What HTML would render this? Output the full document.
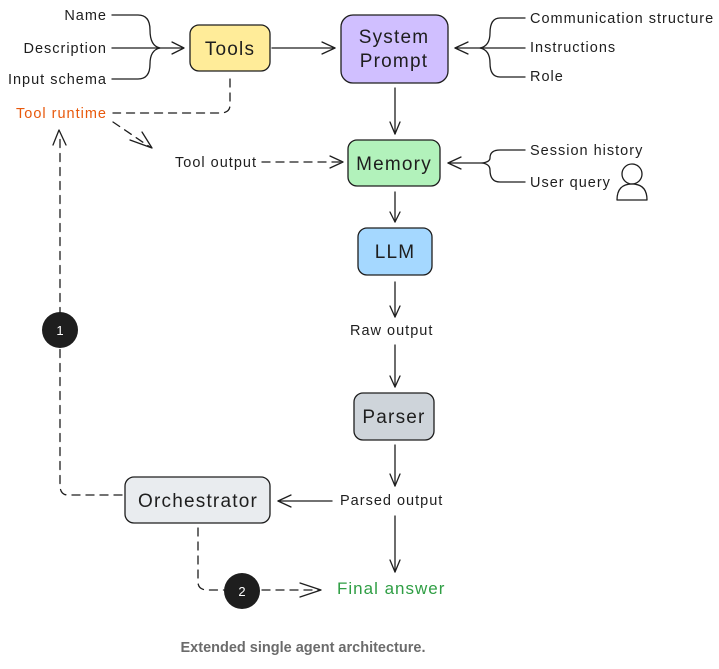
<!DOCTYPE html>
<html><head><meta charset="utf-8"><style>
body{margin:0;background:#fff;width:719px;height:664px;overflow:hidden}
svg text{font-family:"Liberation Sans",sans-serif;fill:#1e1e1e}
</style></head><body>
<svg width="719" height="664" viewBox="0 0 719 664" xmlns="http://www.w3.org/2000/svg">
<g fill="none" stroke="#1e1e1e" stroke-width="1.3" stroke-linecap="round" stroke-linejoin="round">
<path d="M112 15 H138 Q150 15 150 30 Q150 46 160 48 Q150 50 150 64 Q150 79 138 79 H112"/>
<path d="M112 48 H183"/>
<path d="M172 42 L184 48 L172 54"/>
<path d="M272 48 H335"/><path d="M322 42 L335 48 L322 54"/>
<path d="M525 18 H500 Q490 18 490 33 Q490 46 480 48 Q490 50 490 63 Q490 77 500 77 H525"/>
<path d="M525 48 H455"/><path d="M468 42 L455 48 L468 54"/>
<path d="M525 150 H500 Q490 150 490 158 Q490 162 482 163 Q490 164 490 170 Q490 182 500 182 H525"/>
<path d="M482 163 H448"/><path d="M461 157 L448 163 L461 169"/>
<path d="M395 88 V134"/><path d="M390 122 L395 134 L400 122"/>
<path d="M395 192 V222"/><path d="M390 212 L395 222 L400 212"/>
<path d="M395 282 V317"/><path d="M390 306 L395 317 L400 306"/>
<path d="M395 345 V387"/><path d="M390 376 L395 387 L400 376"/>
<path d="M395 445 V486"/><path d="M390 474 L395 486 L400 474"/>
<path d="M395 516 V572"/><path d="M390 560 L395 572 L400 560"/>
<path d="M332 501 H278"/><path d="M291 495 L278 501 L291 507"/>
<g stroke-dasharray="8 6">
<path d="M230 79 V105 Q230 113 220 113 H113"/>
<path d="M113 122 L150 147"/>
<path d="M262 162 H342"/>
<path d="M122 495 H68 Q60 495 60 485 V136"/>
<path d="M198 528 V582 Q198 590 208 590 H224"/>
<path d="M262 590 H320"/>
</g>
<path d="M130 140 L152 148 L142 132"/>
<path d="M330 156 L343 162 L330 168"/>
<path d="M53 145 L59 130 L66 145"/>
<path d="M300 583 L321 590 L300 597"/>
<circle cx="632" cy="174" r="10"/>
<path d="M617 200 Q617 184 632 184 Q647 184 647 200 Z"/>
</g>
<g stroke="#1e1e1e" stroke-width="1.3">
<rect x="190" y="25" width="80" height="46" rx="9" fill="#ffec99"/>
<rect x="341" y="15" width="107" height="68" rx="12" fill="#d0bfff"/>
<rect x="348" y="140" width="92" height="46" rx="9" fill="#b2f2bb"/>
<rect x="358" y="228" width="74" height="47" rx="9" fill="#a5d8ff"/>
<rect x="354" y="393" width="80" height="47" rx="9" fill="#ced4da"/>
<rect x="125" y="477" width="145" height="46" rx="9" fill="#e9ecef"/>
</g>
<circle cx="60" cy="330" r="18" fill="#1e1e1e"/>
<circle cx="242" cy="591" r="18" fill="#1e1e1e"/>
<text x="60" y="335" font-size="13" text-anchor="middle" style="fill:#fff">1</text>
<text x="242" y="596" font-size="13" text-anchor="middle" style="fill:#fff">2</text>
<g font-size="19" text-anchor="middle" letter-spacing="1.2">
<text x="230" y="55">Tools</text>
<text x="394" y="43">System</text>
<text x="394" y="67">Prompt</text>
<text x="394" y="170">Memory</text>
<text x="395" y="258">LLM</text>
<text x="394" y="423">Parser</text>
<text x="198" y="507">Orchestrator</text>
</g>
<g font-size="14.5" text-anchor="end" letter-spacing="1">
<text x="107" y="20">Name</text>
<text x="107" y="53">Description</text>
<text x="107" y="84">Input schema</text>
<text x="107" y="118" style="fill:#e8590c">Tool runtime</text>
<text x="257" y="167">Tool output</text>
</g>
<g font-size="14.5" letter-spacing="1">
<text x="530" y="23">Communication structure</text>
<text x="530" y="52">Instructions</text>
<text x="530" y="81">Role</text>
<text x="530" y="155">Session history</text>
<text x="530" y="187">User query</text>
<text x="350" y="335">Raw output</text>
<text x="340" y="505">Parsed output</text>
<text x="337" y="594" font-size="17" style="fill:#2f9e44">Final answer</text>
</g>
<text x="303" y="652" font-size="14.5" font-weight="bold" text-anchor="middle" style="fill:#6b6b6b">Extended single agent architecture.</text>
</svg>
</body></html>
